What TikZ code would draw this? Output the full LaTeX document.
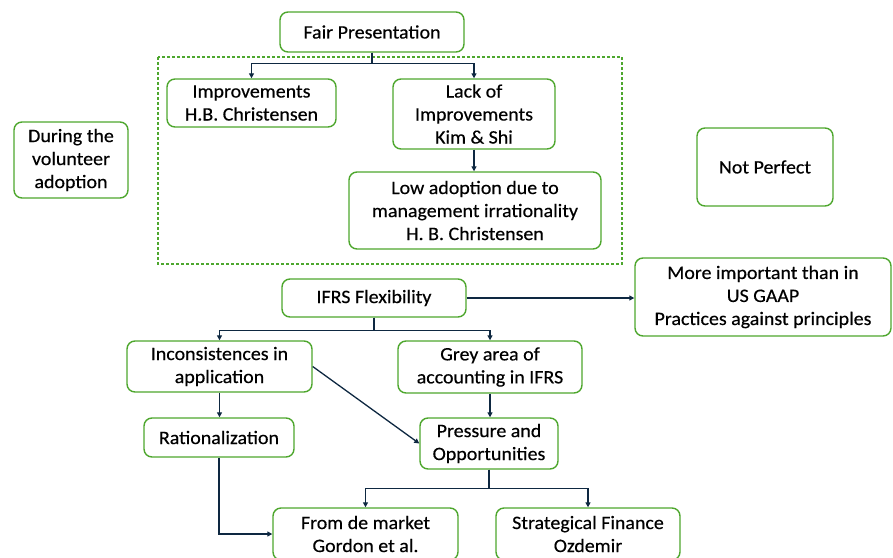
\documentclass[tikz,border=0pt]{standalone}
\usepackage{fontspec}
\setmainfont[FakeStretch=1.05,FakeBold=0.35]{Carlito}
\usetikzlibrary{arrows.meta}
\definecolor{bgreen}{RGB}{78,167,46}
\definecolor{navy}{RGB}{14,40,65}
\begin{document}
\begin{tikzpicture}[x=1pt,y=-1pt,
  box/.style={draw=bgreen, line width=1.4pt, rounded corners=8pt, fill=white, align=center, inner sep=0pt, font=\fontsize{19}{23}\selectfont},
  arr/.style={draw=navy, line width=1.3pt, -{Triangle[length=5pt,width=5pt]}},
  grp/.style={draw=bgreen, line width=1.2pt, dash pattern=on 3pt off 2pt}]
\useasboundingbox (0,0) rectangle (893,557);
\clip (0,0) rectangle (893,557);
\draw[grp] (158,57) rectangle (622,264);
\node[box, minimum width=184, minimum height=40] (fp) at (372,32) {Fair Presentation};
\node[box, minimum width=169, minimum height=48] (imp) at (251.5,103) {Improvements\\H.B. Christensen};
\node[box, minimum width=162, minimum height=70] (lack) at (474,114) {Lack of\\Improvements\\Kim \& Shi};
\node[box, minimum width=252, minimum height=77] (low) at (475,210.5) {Low adoption due to\\management irrationality\\H. B. Christensen};
\node[box, minimum width=114, minimum height=76] (dur) at (71,160) {During the\\volunteer\\adoption};
\node[box, minimum width=136, minimum height=78] (np) at (765,167) {Not Perfect};
\node[box, minimum width=184, minimum height=38] (ifrs) at (374,298) {IFRS Flexibility};
\node[box, minimum width=256, minimum height=78] (more) at (763,297) {More important than in\\US GAAP\\Practices against principles};
\node[box, minimum width=185, minimum height=51] (inc) at (219.5,366.5) {Inconsistences in\\application};
\node[box, minimum width=184, minimum height=52] (grey) at (490,367) {Grey area of\\accounting in IFRS};
\node[box, minimum width=150, minimum height=39] (rat) at (219,437.5) {Rationalization};
\node[box, minimum width=138, minimum height=51] (pres) at (489,443.5) {Pressure and\\Opportunities};
\node[box, minimum width=185, minimum height=52] (mkt) at (365.5,534) {From de market\\Gordon et al.};
\node[box, minimum width=184, minimum height=52] (strat) at (588,534) {Strategical Finance\\Ozdemir};
\draw[arr] (fp.south) -- ++(0,11) -| (imp.north);
\draw[arr] (fp.south) -- ++(0,11) -| (lack.north);
\draw[arr] (lack.south) -- (lack.south |- low.north);
\draw[arr] (ifrs.east) -- (ifrs.east -| more.west);
\draw[arr] (ifrs.south) -- ++(0,13) -| (inc.north);
\draw[arr] (ifrs.south) -- ++(0,13) -| (grey.north);
\draw[arr] (inc.south) -- (inc.south |- rat.north);
\draw[arr] (inc.east) -- (pres.west);
\draw[arr] (grey.south) -- (grey.south |- pres.north);
\draw[arr] (pres.south) -- ++(0,19) -| (mkt.north);
\draw[arr] (pres.south) -- ++(0,19) -| (strat.north);
\draw[arr] (rat.south) |- (mkt.west);
\end{tikzpicture}
\end{document}
